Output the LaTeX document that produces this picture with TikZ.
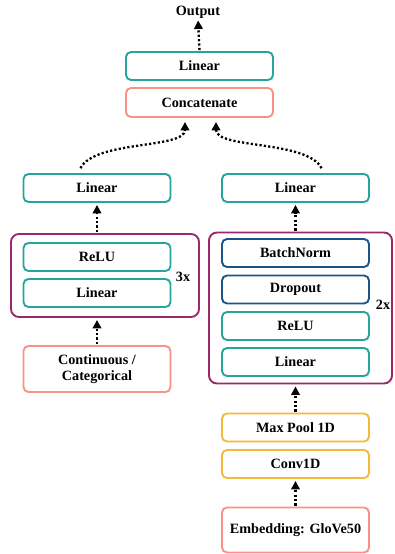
\documentclass[tikz,border=0pt]{standalone}
\usepackage{fontspec}
\setmainfont{Liberation Serif}
\usetikzlibrary{arrows.meta,calc}
\definecolor{teal}{RGB}{38,166,154}
\definecolor{salmon}{RGB}{248,146,134}
\definecolor{purp}{RGB}{155,40,105}
\definecolor{dblue}{RGB}{25,85,135}
\definecolor{gold}{RGB}{246,185,55}
\tikzset{
  blk/.style={draw, rounded corners=5pt, line width=1.9pt, minimum width=147pt, minimum height=28pt, inner sep=0pt, align=center, font=\fontsize{14.2}{16.5}\selectfont\bfseries},
  tealbox/.style={blk, draw=teal},
  salbox/.style={blk, draw=salmon},
  bluebox/.style={blk, draw=dblue},
  goldbox/.style={blk, draw=gold},
  grp/.style={draw=purp, rounded corners=8pt, line width=1.9pt, inner sep=0pt},
  lbl/.style={font=\fontsize{14.2}{16.5}\selectfont\bfseries, inner sep=0pt},
  flow/.style={line width=2.3pt, dash pattern=on 2.2pt off 2.2pt, -{Triangle[width=8.5pt,length=8.5pt]}, shorten >=2pt, shorten <=1pt}
}
\begin{document}
\begin{tikzpicture}[x=1pt,y=-1pt]
\useasboundingbox (0,0) rectangle (394,554);
% top
\node[lbl] (out) at (198,12) {Output};
\node[tealbox] (lintop) at (199.5,66) {Linear};
\node[salbox, minimum height=29pt] (concat) at (199.5,102.5) {Concatenate};
\node[tealbox] (linL) at (97,188) {Linear};
\node[tealbox] (linR) at (295.5,188) {Linear};
% left group
\node[grp, minimum width=188pt, minimum height=83pt] (grpL) at (105,275.5) {};
\node[tealbox] (reluL) at (97,257) {ReLU};
\node[tealbox] (linL2) at (97,293) {Linear};
\node[lbl] (rep3) at (183,277) {3x};
\node[salbox, minimum height=46pt] (cont) at (97,369) {Continuous /\\Categorical};
% right group
\node[grp, minimum width=183pt, minimum height=151pt] (grpR) at (300.5,308) {};
\node[bluebox] (bn) at (295.5,253) {BatchNorm};
\node[bluebox] (drop) at (295.5,289.5) {Dropout};
\node[tealbox] (reluR) at (295.5,326) {ReLU};
\node[tealbox] (linR2) at (295.5,362) {Linear};
\node[lbl] (rep2) at (383,305) {2x};
\node[goldbox] (pool) at (295.5,427.5) {Max Pool 1D};
\node[goldbox] (conv) at (295.5,464) {Conv1D};
\node[salbox, minimum height=45pt] (emb) at (295.5,530) {Embedding: GloVe50};
% connectors
\draw[flow] (lintop.north) -- (out.south);
\draw[flow] ($(linL.north)+(-17,-4)$) .. controls ($(linL.north)+(-2,-33)$) and ($(concat.south)+(-14.5,31)$) .. ($(concat.south)+(-14.5,2)$);
\draw[flow] ($(linR.north)+(26.5,-4)$) .. controls ($(linR.north)+(11.5,-33)$) and ($(concat.south)+(16.5,31)$) .. ($(concat.south)+(16.5,2)$);
\draw[flow] (grpL.north -| linL.south) -- (linL.south);
\draw[flow] (cont.north) -- (grpL.south -| cont.north);
\draw[flow] (grpR.north -| linR.south) -- (linR.south);
\draw[flow] (pool.north) -- (grpR.south -| pool.north);
\draw[flow] (emb.north) -- (conv.south);
\end{tikzpicture}
\end{document}
